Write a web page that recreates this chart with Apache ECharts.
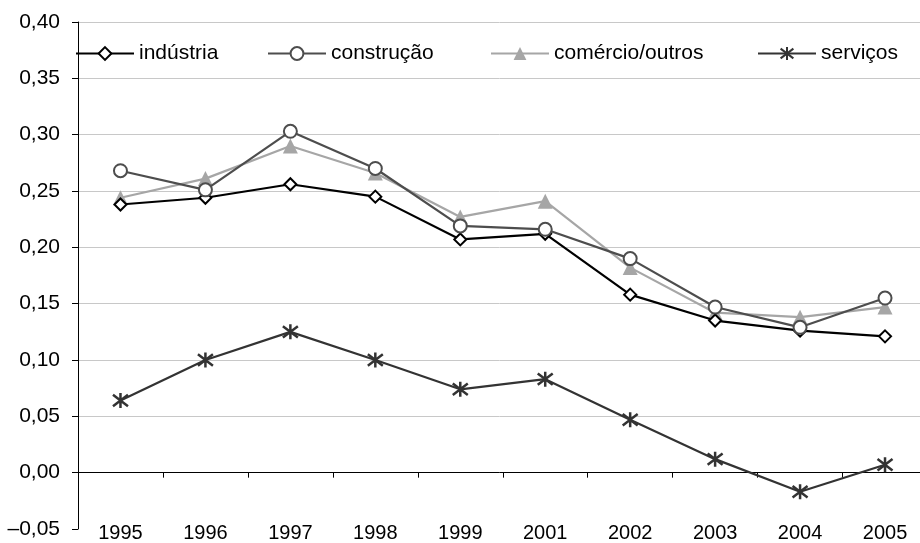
<!DOCTYPE html>
<html><head><meta charset="utf-8">
<script src="https://cdn.jsdelivr.net/npm/echarts@6/dist/echarts.min.js"></script>
<style>html,body{margin:0;padding:0;background:#fff}#c{width:920px;height:543px}</style>
</head><body><div id="c"></div>
<script>
var years = ['1995','1996','1997','1998','1999','2001','2002','2003','2004','2005'];
var industria = [0.238, 0.244, 0.256, 0.245, 0.207, 0.212, 0.158, 0.135, 0.126, 0.121];
var construcao = [0.268, 0.251, 0.303, 0.270, 0.219, 0.216, 0.190, 0.147, 0.129, 0.155];
var comercio = [0.244, 0.261, 0.290, 0.266, 0.227, 0.241, 0.182, 0.142, 0.138, 0.147];
var servicos = [0.064, 0.100, 0.125, 0.100, 0.074, 0.083, 0.047, 0.012, -0.017, 0.007];
var names = ['indústria','construção','comércio/outros','serviços'];

var FONT = '"Liberation Sans", Arial, sans-serif';
var chart = echarts.init(document.getElementById('c'), null, {renderer:'canvas'});
var asterisk = 'path://M5,0 L5,10 M1.5,1.2 L8.5,8.8 M1.5,8.8 L8.5,1.2';
function legend(name, left){
  return {data:[name], left:left, top:43, padding:0, itemWidth:58, itemHeight:16,
    textStyle:{fontFamily:FONT, fontSize:21, color:'#000'}, selectedMode:false};
}
var splitColors = ['rgba(0,0,0,0)'];
for (var i=0;i<10;i++) splitColors.push('#c8c8c8');
chart.setOption({
  animation:false,
  backgroundColor:'#fff',
  textStyle:{fontFamily:FONT},
  grid:{left:78, width:849.5, top:22, bottom:14, containLabel:false, outerBoundsMode:'none'},
  legend:[legend(names[0],75), legend(names[1],267), legend(names[2],490), legend(names[3],757)],
  xAxis:[
    {type:'category', data:years, boundaryGap:true, position:'bottom',
     axisLine:{show:false, onZero:false}, axisTick:{show:false},
     axisLabel:{margin:-6, fontSize:20, color:'#000', fontFamily:FONT}, splitLine:{show:false}},
    {type:'category', data:years, boundaryGap:true, position:'bottom',
     axisLine:{show:true, onZero:true, lineStyle:{color:'#000', width:1}},
     axisTick:{show:true, length:5, lineStyle:{color:'#000'}},
     axisLabel:{show:false}, splitLine:{show:false}}
  ],
  yAxis:{type:'value', min:-0.05, max:0.40, interval:0.05,
    axisLine:{show:true, lineStyle:{color:'#000', width:1}},
    axisTick:{show:true, length:6, lineStyle:{color:'#000'}},
    axisLabel:{margin:18, fontSize:21, color:'#000', fontFamily:FONT,
      formatter:function(v){ var s=Math.abs(v).toFixed(2).replace('.',','); return (v< -1e-9?'\u2013':'')+s; }},
    splitLine:{show:true, lineStyle:{color:splitColors, width:1}}
  },
  series:[
    {name:names[2], type:'line', data:comercio, symbol:'triangle', symbolSize:15,
     lineStyle:{color:'#a6a6a6', width:2.2}, itemStyle:{color:'#a6a6a6'}, z:2},
    {name:names[0], type:'line', data:industria, symbol:'emptyDiamond', symbolSize:12,
     lineStyle:{color:'#000', width:2.2}, itemStyle:{color:'#000', borderWidth:2}, z:3},
    {name:names[1], type:'line', data:construcao, symbol:'emptyCircle', symbolSize:13,
     lineStyle:{color:'#4d4d4d', width:2.2}, itemStyle:{color:'#4d4d4d', borderWidth:2}, z:4},
    {name:names[3], type:'line', data:servicos, symbol:asterisk, symbolSize:15,
     lineStyle:{color:'#333', width:2.2}, itemStyle:{color:'#333', borderColor:'#333', borderWidth:2.5}, z:5}
  ]
});
</script></body></html>
